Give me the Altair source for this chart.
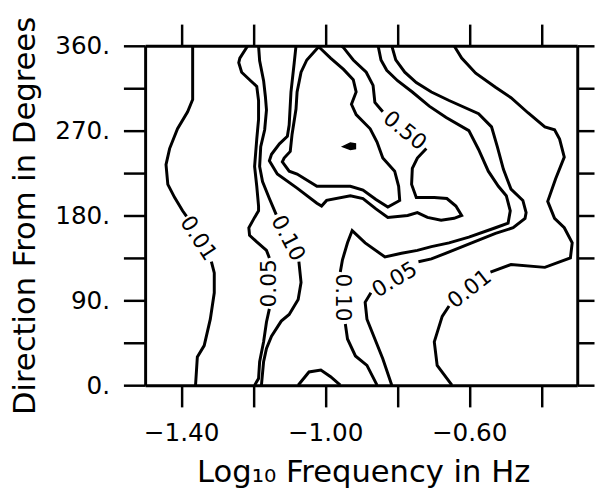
import altair as alt
import pandas as pd

# ---------------- contour line pieces (x = log10 f, y = direction deg) ----------------
# 0.01 contour, left branch (split around its label)
c01L_a_x = [-1.368, -1.368, -1.382, -1.410, -1.432, -1.442, -1.437, -1.418, -1.396, -1.385]
c01L_a_y = [360, 303, 290, 272, 251, 234, 213, 199, 185, 179]
c01L_b_x = [-1.316, -1.308, -1.308, -1.319, -1.336, -1.355, -1.360]
c01L_b_y = [131, 119, 98, 70, 42, 30, 0]

# 0.05 contour, left branch
c05L_a_x = [-1.215, -1.237, -1.240, -1.232, -1.210, -1.190, -1.185, -1.185, -1.190, -1.196,
            -1.190, -1.185, -1.185, -1.196, -1.212, -1.210, -1.190, -1.163, -1.155]
c05L_a_y = [360, 347, 342, 332, 324, 317, 302, 282, 261, 232, 211, 190, 185, 178, 167, 159, 152, 143, 135]
c05L_b_x = [-1.155, -1.163, -1.171, -1.182, -1.185, -1.196]
c05L_b_y = [81, 67, 46, 25, 7, 0]

# 0.10 contour, left branch
c10L_a_x = [-1.185, -1.182, -1.171, -1.166, -1.163, -1.168, -1.179, -1.182, -1.174, -1.155, -1.136]
c10L_a_y = [360, 344, 323, 306, 292, 271, 253, 232, 216, 198, 181]
c10L_b_x = [-1.073, -1.067, -1.075, -1.100, -1.122, -1.149, -1.163, -1.171, -1.177]
c10L_b_y = [131, 109, 91, 75, 68, 52, 39, 25, 0]

# 0.50 contour
c50_a_x = [-1.081, -1.086, -1.095, -1.100, -1.105, -1.127, -1.149, -1.155, -1.133, -1.078,
           -1.023, -1.010, -0.996, -0.930, -0.895, -0.859, -0.826, -0.771, -0.744, -0.716,
           -0.678, -0.642, -0.621, -0.637, -0.662, -0.697, -0.747, -0.760, -0.758, -0.744, -0.719]
c50_a_y = [360, 342, 311, 276, 264, 256, 245, 238, 224, 209, 193, 190, 196, 201, 198, 187, 178,
           180, 183, 178, 175, 177, 180, 190, 198, 199, 199, 213, 230, 241, 251]
c50_b_x = [-0.840, -0.862, -0.867, -0.886, -0.922, -0.949, -0.955]
c50_b_y = [290, 300, 318, 332, 345, 358, 360]

# inner (unlabelled) closed contour
cin_x = [-1.018, -0.985, -0.949, -0.922, -0.914, -0.927, -0.914, -0.875, -0.856, -0.840, -0.807,
         -0.796, -0.793, -0.826, -0.859, -0.895, -0.930, -0.977, -1.023, -1.078, -1.100, -1.119,
         -1.114, -1.097, -1.092, -1.081, -1.078, -1.067, -1.051, -1.018]
cin_y = [359, 347, 335, 324, 311, 298, 287, 272, 258, 241, 227, 211, 196, 189, 197, 207, 211, 211,
         211, 224, 227, 237, 241, 248, 266, 293, 311, 332, 345, 359]

# tiny peak contour (filled blob): x, upper and lower edge
peak_x = [-0.951, -0.930, -0.916]
peak_top = [253, 257, 256]
peak_bot = [253, 250, 251]

# small closed contour at the bottom
bump_x = [-1.075, -1.045, -1.012, -0.985, -0.958]
bump_y = [0, 14, 16, 9, 0]

# 0.10 contour, middle/right branch
c10M_a_x = [-0.853, -0.845, -0.829, -0.799, -0.758, -0.711, -0.664, -0.601, -0.574, -0.547,
            -0.519, -0.497, -0.486, -0.492, -0.527, -0.601, -0.656, -0.705, -0.744, -0.788,
            -0.834, -0.889, -0.925, -0.938, -0.952, -0.958]
c10M_a_y = [360, 345, 334, 323, 311, 296, 284, 270, 250, 227, 211, 201, 185, 172, 167, 157, 151,
            147, 143, 140, 136, 151, 164, 151, 133, 120]
c10M_b_x = [-0.944, -0.938, -0.916, -0.884, -0.856]
c10M_b_y = [65, 49, 31, 21, 0]

# 0.05 contour, middle/right branch
c05M_a_x = [-0.815, -0.804, -0.779, -0.747, -0.705, -0.656, -0.574, -0.538, -0.522, -0.505,
            -0.484, -0.451, -0.442, -0.445, -0.478, -0.527, -0.593, -0.664, -0.705, -0.741]
c05M_a_y = [360, 345, 332, 321, 311, 302, 288, 274, 253, 229, 208, 196, 183, 177, 167, 161, 151,
            140, 134, 131]
c05M_b_x = [-0.873, -0.889, -0.884, -0.862, -0.840, -0.815]
c05M_b_y = [98, 88, 70, 49, 28, 0]

# 0.01 contour, right branch
c01R_a_x = [-0.642, -0.621, -0.582, -0.527, -0.484, -0.437, -0.390, -0.363, -0.349, -0.336,
            -0.360, -0.382, -0.363, -0.336, -0.314, -0.319, -0.390, -0.484, -0.541]
c01R_a_y = [360, 347, 331, 316, 305, 289, 274, 271, 261, 242, 219, 195, 177, 167, 151, 135, 125,
            128, 120]
c01R_b_x = [-0.656, -0.675, -0.697, -0.689, -0.648]
c01R_b_y = [84, 73, 46, 21, 0]

# contour labels
lab_text = ["0.01", "0.05", "0.10", "0.50", "0.10", "0.05", "0.01"]
lab_x = [-1.352, -1.155, -1.103, -0.779, -0.952, -0.807, -0.599]
lab_y = [156, 108, 156, 270, 93, 112, 102]
lab_angle = [57, 270, 62, 39, 90, 329, 322]

# axes
x_ticks = [-1.4, -1.2, -1.0, -0.8, -0.6, -0.4]
x_labeled = [-1.4, -1.0, -0.6]
x_labels = ["\u22121.40", "\u22121.00", "\u22120.60"]
y_ticks = [0, 45, 90, 135, 180, 225, 270, 315, 360]
y_labeled = [0, 90, 180, 270, 360]
y_labels = ["0.", "90.", "180.", "270.", "360."]

# ---------------- build tables ----------------
pieces = [
    ("c01L_a", c01L_a_x, c01L_a_y), ("c01L_b", c01L_b_x, c01L_b_y),
    ("c05L_a", c05L_a_x, c05L_a_y), ("c05L_b", c05L_b_x, c05L_b_y),
    ("c10L_a", c10L_a_x, c10L_a_y), ("c10L_b", c10L_b_x, c10L_b_y),
    ("c50_a", c50_a_x, c50_a_y), ("c50_b", c50_b_x, c50_b_y),
    ("cin", cin_x, cin_y), ("bump", bump_x, bump_y),
    ("c10M_a", c10M_a_x, c10M_a_y), ("c10M_b", c10M_b_x, c10M_b_y),
    ("c05M_a", c05M_a_x, c05M_a_y), ("c05M_b", c05M_b_x, c05M_b_y),
    ("c01R_a", c01R_a_x, c01R_a_y), ("c01R_b", c01R_b_x, c01R_b_y),
]
rows = []
for name, xs, ys in pieces:
    for i, (xv, yv) in enumerate(zip(xs, ys)):
        rows.append({"piece": name, "i": i, "x": xv, "y": yv})
df = pd.DataFrame(rows)
lab_df = pd.DataFrame({"t": lab_text, "x": lab_x, "y": lab_y, "a": lab_angle})
peak_df = pd.DataFrame({"x": peak_x, "top": peak_top, "bot": peak_bot})


def make_expr(vals, labels):
    parts = []
    for v, l in zip(vals, labels):
        parts.append(f"abs(datum.value - ({v})) < 1e-6 ? '{l}'")
    return " : ".join(parts) + " : ''"


FONT = "DejaVu Sans"
common = dict(tickSize=22, tickWidth=2.5, tickColor="black", domainColor="black", domainWidth=3,
              grid=False, labelFont=FONT, labelFontSize=25, labelColor="black",
              titleFont=FONT, titleFontSize=31, titleFontWeight="normal", titleColor="black",
              labelOverlap=False)

xscale = alt.Scale(domain=[-1.5, -0.3], nice=False, zero=False)
yscale = alt.Scale(domain=[0, 360], nice=False, zero=False)

bottom_axis = alt.Axis(values=x_ticks, labelExpr=make_expr(x_labeled, x_labels), labelPadding=14,
                       titleX=221, titleY=98, titleBaseline="alphabetic", titleAlign="center",
                       **common)
left_axis = alt.Axis(values=y_ticks, labelExpr=make_expr(y_labeled, y_labels), labelPadding=14,
                     titleAngle=270, titleX=-121, titleY=172, titleBaseline="middle",
                     titleAlign="center", **common)
top_axis = alt.Axis(orient="top", values=x_ticks, labels=False, **common)
right_common = dict(common)
right_common["tickSize"] = 17
right_axis = alt.Axis(orient="right", values=y_ticks, labels=False, **right_common)

lines = alt.Chart(df).mark_line(color="black", strokeWidth=3).encode(
    x=alt.X("x:Q", scale=xscale, axis=bottom_axis, title="Log\u2081\u2080 Frequency in Hz"),
    y=alt.Y("y:Q", scale=yscale, axis=left_axis, title="Direction From in Degrees"),
    detail="piece:N",
    order="i:Q",
)

peak = alt.Chart(peak_df).mark_area(color="black", stroke="black", strokeWidth=1.5).encode(
    x=alt.X("x:Q", scale=xscale, axis=None),
    y=alt.Y("top:Q", scale=yscale, axis=None),
    y2="bot:Q",
)

labels = alt.Chart(lab_df).mark_text(font=FONT, fontSize=22, color="black", align="center",
                                     baseline="middle").encode(
    x=alt.X("x:Q", scale=xscale, axis=None),
    y=alt.Y("y:Q", scale=yscale, axis=None),
    text="t:N",
    angle=alt.Angle("a:Q", scale=None),
)

frame = alt.Chart(df).mark_point(opacity=0).encode(
    x=alt.X("x:Q", scale=xscale, axis=top_axis, title=None),
    y=alt.Y("y:Q", scale=yscale, axis=right_axis, title=None),
)

chart = alt.layer(lines, peak, labels, frame).resolve_axis(x="independent", y="independent").properties(
    width=438, height=344,
    autosize=alt.AutoSizeParams(type="none"),
    padding={"left": 139, "top": 35, "right": 18, "bottom": 110},
    background="white",
).configure_view(stroke=None)

chart.save("out.html", embed_options={"renderer": "svg", "actions": False})
